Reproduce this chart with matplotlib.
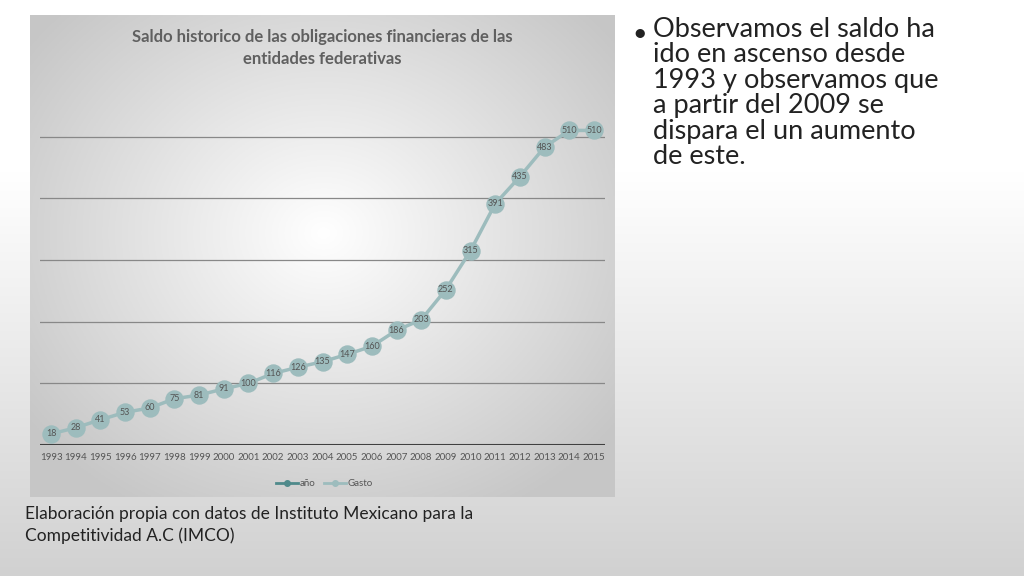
import numpy as np
import matplotlib
matplotlib.use("Agg")
import matplotlib.pyplot as plt

plt.rcParams['font.family'] = 'Lato'

years = list(range(1993, 2016))
gasto = [18, 28, 41, 53, 60, 75, 81, 91, 100, 116, 126, 135, 147, 160, 186, 203, 252, 315, 391, 435, 483, 510, 510]
title = "Saldo historico de las obligaciones financieras de las\nentidades federativas"

W, H = 1024, 576
fig = plt.figure(figsize=(W/100, H/100), dpi=100)

bg = fig.add_axes([0, 0, 1, 1]); bg.set_axis_off()
g = np.linspace(1, 0, 256)[:, None]
col = 1 - 0.18 * np.clip((1 - g - 0.3) / 0.7, 0, 1)
bg.imshow(np.dstack([col, col, col]), aspect='auto', extent=[0, 1, 0, 1])
bg.set_xlim(0, 1); bg.set_ylim(0, 1)

px0, py0, px1, py1 = 30, 15, 615, 497
panel = fig.add_axes([px0/W, 1-py1/H, (px1-px0)/W, (py1-py0)/H]); panel.set_axis_off()
yy, xx = np.mgrid[0:200, 0:240]
r = np.sqrt(((xx-120)/150)**2 + ((yy-90)/130)**2)
v = 1 - 0.22 * np.clip(r, 0, 1)
panel.imshow(np.dstack([v, v, v]), aspect='auto')

ax0, ay0, ax1, ay1 = 40, 115, 605, 445
ax = fig.add_axes([ax0/W, 1-ay1/H, (ax1-ax0)/W, (ay1-ay0)/H])
ax.patch.set_alpha(0)
ax.set_xlim(1992.55, 2015.45)
ax.set_ylim(0, 535)
for yv in [100, 200, 300, 400, 500]:
    ax.axhline(yv, color='#888888', lw=0.9, zorder=0)
ax.axhline(0, color='#404040', lw=1.5, zorder=1)
for s in ax.spines.values(): s.set_visible(False)
ax.set_yticks([])
ax.set_xticks(years)
ax.set_xticklabels([str(y) for y in years], fontsize=7, color='#555555')
ax.tick_params(axis='x', length=0, pad=6)
ax.plot(years, gasto, color='#9dbcbd', lw=2.5, zorder=2)
ax.scatter(years, gasto, s=150, color='#9dbcbd', zorder=3)
for x, y in zip(years, gasto):
    ax.text(x, y, str(y), ha='center', va='center', fontsize=6.5, color='#555555', zorder=4)

fig.text((px0+px1)/2/W, 1-48/H, title, ha='center', va='center', fontsize=12,
         fontweight='bold', color='#606060', linespacing=1.4)

ly = 1-483/H
fig.add_artist(plt.Line2D([276/W, 298/W], [ly, ly], color='#4f8a8b', lw=2))
fig.add_artist(plt.Line2D([287/W], [ly], color='#4f8a8b', marker='o', ms=4))
fig.add_artist(plt.Line2D([324/W, 346/W], [ly, ly], color='#9dbcbd', lw=2))
fig.add_artist(plt.Line2D([335/W], [ly], color='#9dbcbd', marker='o', ms=4))
fig.text(300/W, ly, "año", fontsize=7, va='center', color='#555555')
fig.text(348/W, ly, "Gasto", fontsize=7, va='center', color='#555555')

fig.text(632/W, 1-33/H, "•", fontsize=18, va='center', color='#222222')
fig.text(653/W, 1-17/H, "Observamos el saldo ha\nido en ascenso desde\n1993 y observamos que\na partir del 2009 se\ndispara el un aumento\nde este.",
         fontsize=19.5, va='top', ha='left', color='#222222', linespacing=1.02)
fig.text(25/W, 1-525/H, "Elaboración propia con datos de Instituto Mexicano para la\nCompetitividad A.C (IMCO)",
         fontsize=12.5, va='center', ha='left', color='#222222', linespacing=1.4)

fig.savefig("out.png", dpi=100)
